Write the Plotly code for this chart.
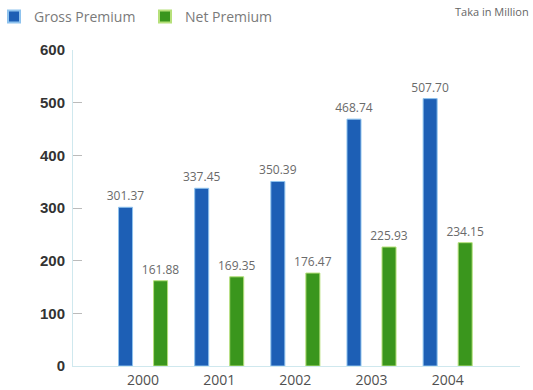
import plotly.graph_objects as go

years = ["2000", "2001", "2002", "2003", "2004"]
gross_premium = [301.37, 337.45, 350.39, 468.74, 507.70]
net_premium = [161.88, 169.35, 176.47, 225.93, 234.15]
y_ticks = [0, 100, 200, 300, 400, 500, 600]

BLUE = "#1d5fb5"
GREEN = "#3a961d"
W, H = 533, 390
L, R, T, B = 73, 13, 50, 24
PW = W - L - R
PH = H - T - B

label_font = dict(family="Open Sans", size=12, color="#6a6a6a")

fig = go.Figure()
fig.add_trace(go.Bar(
    name="Gross Premium", x=years, y=gross_premium,
    marker=dict(color=BLUE, line=dict(color="#8fc3ee", width=1)),
    text=[f"{v:.2f}" for v in gross_premium], textposition="outside",
    textfont=label_font, constraintext="none", cliponaxis=False,
))
fig.add_trace(go.Bar(
    name="Net Premium", x=years, y=net_premium,
    marker=dict(color=GREEN, line=dict(color="#b6e07a", width=1)),
    text=[f"{v:.2f}" for v in net_premium], textposition="outside",
    textfont=label_font, constraintext="none", cliponaxis=False,
))

fig.update_layout(
    width=W, height=H,
    margin=dict(l=L, r=R, t=T, b=B, autoexpand=False),
    paper_bgcolor="white", plot_bgcolor="white",
    barmode="group", bargap=0.08, bargroupgap=0.6,
    showlegend=True,
    legend=dict(
        orientation="h", x=(-6 - L) / PW, xanchor="left",
        y=1 + (T - 17) / PH, yanchor="middle",
        entrywidth=106, entrywidthmode="pixels",
        font=dict(family="Open Sans", size=14, color="#7a7a7a"),
        itemsizing="constant", traceorder="normal",
        bgcolor="rgba(0,0,0,0)",
    ),
    xaxis=dict(
        type="category", range=[-0.92, 4.95], automargin=False,
        showgrid=False, showline=True, linecolor="#cfe8ee", linewidth=1,
        ticks="", tickfont=dict(family="Open Sans", size=14, color="#505050"),
        ticklabelstandoff=1,
    ),
    yaxis=dict(
        range=[0, 600], tickvals=y_ticks, automargin=False,
        showgrid=False, showline=True, linecolor="#cfe8ee", linewidth=1,
        ticks="inside", ticklen=9, tickcolor="#bbbbbb",
        tickfont=dict(family="Liberation Sans", size=15, color="#333333", weight="bold"),
        ticklabelstandoff=4,
        zeroline=False,
    ),
    annotations=[dict(
        text="Taka in Million", xref="paper", yref="paper",
        x=(531 - L) / PW, xanchor="right",
        y=1 + (T - 11) / PH, yanchor="middle",
        showarrow=False,
        font=dict(family="Open Sans", size=11, color="#666666"),
    )],
)

fig.write_html("out.html")
